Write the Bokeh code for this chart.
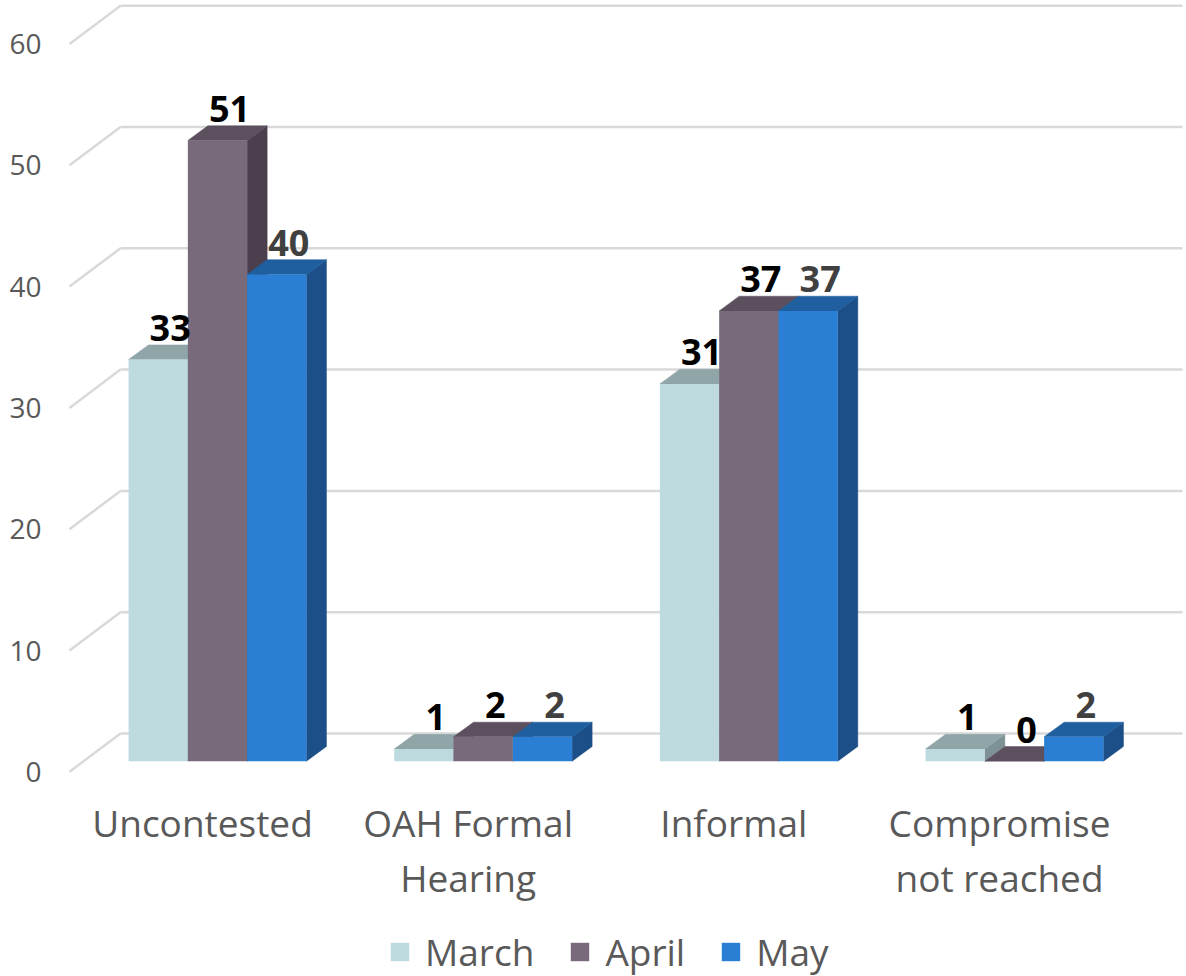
from bokeh.plotting import figure
from bokeh.models import Range1d, Legend, LegendItem
from bokeh.core.properties import value
from bokeh.embed import file_html
from bokeh.resources import INLINE

# ---------------- data ----------------
categories = ["Uncontested", "OAH Formal\nHearing", "Informal", "Compromise\nnot reached"]
series_names = ["March", "April", "May"]
march = [33, 1, 31, 1]
april = [51, 2, 37, 0]
may = [40, 2, 37, 2]
y_ticks = [0, 10, 20, 30, 40, 50, 60]

# ---------------- style ----------------
front_colors = ["#BDDBDF", "#786A7B", "#2A7FD4"]
top_colors = ["#8FA5A8", "#5C4F5E", "#1F5F9F"]
side_colors = ["#7E9194", "#4B3F4D", "#1C4F87"]
label_colors = ["#000000", "#000000", "#404040"]
FONT = "Open Sans"
GRID_COLOR = "#D9D9D9"
TEXT_GRAY = "#595959"

W, H = 1186, 976
PX_X = 265.67          # px per category step
PX_Y = 12.17           # px per value unit
X0 = 217               # px of category 0 (bar front centre) from left
Y0 = 760.7             # px of value 0 (bar front base) from top
GRID_K = 12.13 / 12.17


def dx(px):
    return px / PX_X


def dy(px):
    return px / PX_Y


BAR_W = dx(59.3)
DEPTH_X = dx(20)
DEPTH_Y = dy(14.7)

p = figure(width=W, height=H, output_backend="svg", toolbar_location=None,
           x_range=Range1d(-X0 / PX_X, (W - X0) / PX_X),
           y_range=Range1d(-(H - Y0) / PX_Y, Y0 / PX_Y),
           x_axis_type=None, y_axis_type=None, min_border=0)
p.outline_line_color = None
p.xgrid.visible = False
p.ygrid.visible = False
p.background_fill_color = "white"
p.border_fill_color = "white"

# ---------------- back wall grid + floor diagonals ----------------
back_y = [t * GRID_K + dy(27.7) for t in y_ticks]
front_y = [t * GRID_K - dy(10.6) for t in y_ticks]
p.segment(x0=[dx(120 - X0)] * len(y_ticks), y0=back_y,
          x1=[dx(1182 - X0)] * len(y_ticks), y1=back_y,
          line_color=GRID_COLOR, line_width=2.5)
p.segment(x0=[dx(69 - X0)] * len(y_ticks), y0=front_y,
          x1=[dx(120 - X0)] * len(y_ticks), y1=back_y,
          line_color=GRID_COLOR, line_width=2.5)

# y tick labels
p.text(x=[dx(41 - X0)] * len(y_ticks), y=front_y, text=[str(t) for t in y_ticks],
       text_font=value(FONT), text_font_size="28px", text_color=TEXT_GRAY,
       text_align="right", text_baseline="middle")

# ---------------- bars ----------------
series = [march, april, may]
legend_items = []
for s, vals in enumerate(series):
    x0s, x1s = [], []
    for i, v in enumerate(vals):
        x0 = i + (s - 1.5) * BAR_W
        x0s.append(x0)
        x1s.append(x0 + BAR_W)
    # side faces
    side_xs = [[x1, x1 + DEPTH_X, x1 + DEPTH_X, x1] for x1 in x1s]
    side_ys = [[0, DEPTH_Y, v + DEPTH_Y, v] for v in vals]
    p.patches(side_xs, side_ys, fill_color=side_colors[s], line_color=side_colors[s], line_width=0.5)
    # top faces
    top_xs = [[x0, x1, x1 + DEPTH_X, x0 + DEPTH_X] for x0, x1 in zip(x0s, x1s)]
    top_ys = [[v, v, v + DEPTH_Y, v + DEPTH_Y] for v in vals]
    p.patches(top_xs, top_ys, fill_color=top_colors[s], line_color=top_colors[s], line_width=0.5)
    # front faces
    r = p.quad(left=x0s, right=x1s, bottom=[0] * len(vals), top=vals,
               fill_color=front_colors[s], line_color=None)
    legend_items.append(LegendItem(label=series_names[s], renderers=[r]))

# data labels
for s, vals in enumerate(series):
    lx = [i + (s - 1) * BAR_W + dx(12) for i in range(len(vals))]
    ly = [v + DEPTH_Y + dy(17) for v in vals]
    p.text(x=lx, y=ly, text=[str(v) for v in vals],
           text_font=value(FONT), text_font_size="36px", text_font_style="bold",
           text_color=label_colors[s], text_align="center", text_baseline="alphabetic")

# category labels
for i, cat in enumerate(categories):
    lines = cat.split("\n")
    p.text(x=[i + dx(-15)] * len(lines),
           y=[dy(Y0 - 822) - j * dy(55) for j in range(len(lines))],
           text=lines, text_font=value(FONT), text_font_size="37px",
           text_color=TEXT_GRAY, text_align="center", text_baseline="alphabetic")

legend = Legend(items=legend_items, orientation="horizontal", location=(388, -1),
                glyph_width=23, glyph_height=23, label_standoff=14, spacing=34,
                padding=0, margin=0, border_line_color=None, background_fill_alpha=0,
                label_text_font=FONT, label_text_font_size="37px",
                label_text_color=TEXT_GRAY)
p.add_layout(legend)

open("out.html", "w").write(file_html(p, INLINE))
